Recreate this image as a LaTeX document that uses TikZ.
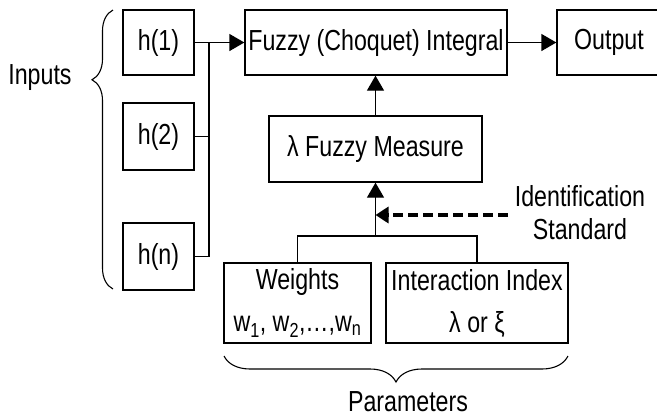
\documentclass[tikz,border=0pt]{standalone}
\usepackage{fontspec}
\setmainfont{Liberation Sans}[FakeStretch=0.80]
\usetikzlibrary{arrows.meta,decorations.pathreplacing}

\begin{document}
\begin{tikzpicture}[x=1pt,y=-1pt,
  font=\fontsize{29}{33}\selectfont,
  box/.style={draw, line width=1.3pt, inner sep=0pt, align=center},
  conn/.style={line width=1.3pt},
  arr/.style={line width=1.3pt, -{Triangle[length=15pt,width=17pt]}},
  dasharr/.style={line width=3.8pt, dash pattern=on 10pt off 5pt,
    -{Triangle[length=13pt,width=16pt]}},
  bracestyle/.style={line width=1.1pt, decorate}]
\useasboundingbox (0,0) rectangle (657,418);

% input boxes
\node[box, minimum width=71pt, minimum height=65pt] (h1) at (158.5,42.5) {h(1)};
\node[box, minimum width=71pt, minimum height=67pt] (h2) at (158.5,136.5) {h(2)};
\node[box, minimum width=71pt, minimum height=67pt] (hn) at (158.5,256.5) {h(n)};

% main chain
\node[box, minimum width=262pt, minimum height=65pt] (F) at (376,42.5) {Fuzzy (Choquet) Integral};
\node[box, minimum width=104pt, minimum height=65pt] (O) at (609,42.5) {Output};
\node[box, minimum width=213pt, minimum height=66pt] (L) at (375.5,149) {λ Fuzzy Measure};

% parameter boxes
\node[box, minimum width=147pt, minimum height=80pt,
  font=\fontsize{29}{42}\selectfont] (W) at (297.5,303)
  {Weights\\w\textsubscript{1}, w\textsubscript{2},\ldots,w\textsubscript{n}};
\node[box, minimum width=182pt, minimum height=80pt,
  font=\fontsize{29}{42}\selectfont] (I) at (477,303)
  {Interaction Index\\λ or ξ};

% labels
\node (inp) at (40,78) {Inputs};
\node (par) at (408,402) {Parameters};
\node[align=center] (ids) at (580,213) {Identification\\Standard};

% input connectors
\coordinate (j) at (209,42.5);
\draw[arr] (h1.east) -- (F.west);
\draw[conn] (hn.east) -| (j);
\draw[conn] (h2.east) -- (h2.east -| j);

% chain arrows
\draw[arr] (F.east) -- (O.west);
\draw[arr] (L.north) -- (L.north |- F.south);

% parameters merge into the measure
\coordinate (m) at (375.5,236);
\draw[conn] (W.north) |- (m) -| (I.north);
\draw[arr] (m) -- (L.south);

% identification standard
\coordinate (ds) at (508,215);
\draw[dasharr] (ds) -- (ds -| m);

% braces
\draw[bracestyle, decoration={brace, amplitude=21pt, aspect=0.75}]
  (113,289) -- (113,10);
\draw[bracestyle, decoration={brace, amplitude=26pt, aspect=0.5}]
  (568,356) -- (224,356);
\end{tikzpicture}
\end{document}
